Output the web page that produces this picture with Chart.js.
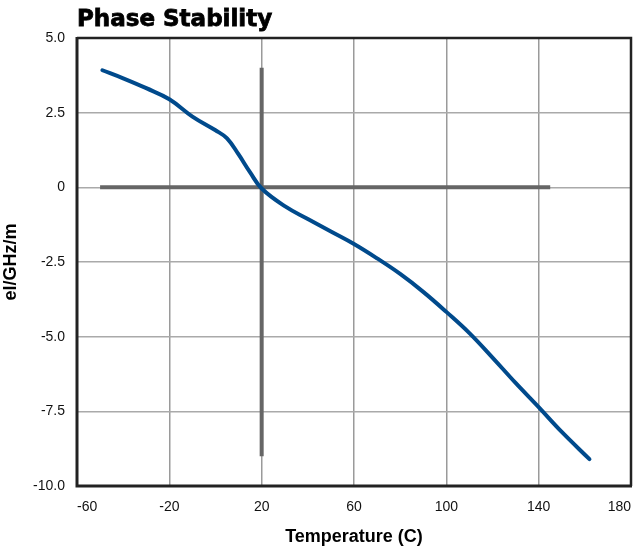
<!DOCTYPE html>
<html>
<head>
<meta charset="utf-8">
<script src="https://cdn.jsdelivr.net/npm/chart.js@4"></script>
<style>
  html, body { margin: 0; padding: 0; background: #fff; }
  #wrap { width: 642px; height: 548px; }
</style>
</head>
<body>
<div id="wrap"><canvas id="phaseChart"></canvas></div>
<script>
// curve
var temps = [-49, -40, -30, -20, -10, 0, 5, 10, 15, 20, 30, 40, 50, 60, 70, 80, 90, 100, 110, 120, 130, 140, 150, 162];
var phase = [3.92, 3.65, 3.32, 2.95, 2.37, 1.91, 1.64, 1.1, 0.5, -0.04, -0.63, -1.06, -1.48, -1.9, -2.38, -2.9, -3.5, -4.17, -4.88, -5.7, -6.55, -7.36, -8.19, -9.1];

// reference cross lines
var hLineX = [-50, 145];
var hLineY = [0, 0];
var vLineX = [20, 20];
var vLineY = [4, -9];

var xTicks = [-60, -20, 20, 60, 100, 140, 180];
var yTicks = [5, 2.5, 0, -2.5, -5, -7.5, -10];

function toPoints(xs, ys) {
    return xs.map((x, i) => ({ x: x, y: ys[i] }));
}

// plot frame + title
var frame = {
    id: 'frame',
    afterDraw: function (chart) {
        var a = chart.chartArea;
        var c = chart.ctx;
        c.save();
        c.strokeStyle = '#222';
        c.lineWidth = 2.5;
        c.beginPath();
        c.moveTo(a.left, a.top);
        c.lineTo(a.right, a.top);
        c.lineTo(a.right, a.bottom);
        c.stroke();
        c.lineWidth = 3;
        c.beginPath();
        c.moveTo(a.left, a.top - 1);
        c.lineTo(a.left, a.bottom);
        c.lineTo(a.right + 1, a.bottom);
        c.stroke();
        c.fillStyle = '#000';
        c.strokeStyle = '#000';
        c.lineWidth = 0.8;
        c.font = 'bold 23px "DejaVu Sans"';
        c.textBaseline = 'alphabetic';
        c.textAlign = 'left';
        c.fillText('Phase Stability', a.left, 26);
        c.strokeText('Phase Stability', a.left, 26);
        c.restore();
    }
};

var ctx = document.getElementById('phaseChart').getContext('2d');

var phaseChart = new Chart(ctx, {
    type: 'line',
    data: {
        datasets: [{
            data: toPoints(temps, phase),
            borderColor: '#004a8c',
            borderWidth: 4,
            pointRadius: 0,
            tension: 0.4,
            borderCapStyle: 'round',
            order: 0
        }, {
            data: toPoints(hLineX, hLineY),
            borderColor: '#666',
            borderWidth: 4,
            pointRadius: 0,
            order: 1
        }, {
            data: toPoints(vLineX, vLineY),
            borderColor: '#666',
            borderWidth: 4,
            pointRadius: 0,
            order: 1
        }]
    },
    options: {
        responsive: true,
        maintainAspectRatio: false,
        animation: false,
        layout: { padding: { top: 38, right: 11, left: 0, bottom: 0 } },
        plugins: {
            legend: { display: false },
            tooltip: { enabled: false }
        },
        scales: {
            x: {
                type: 'linear',
                min: -60,
                max: 180,
                afterBuildTicks: function (scale) {
                    scale.ticks = xTicks.map(v => ({ value: v }));
                },
                afterFit: function (scale) {
                    scale.height = 62;
                    scale.paddingLeft = 0;
                    scale.paddingRight = 0;
                },
                grid: { color: '#9a9a9a', lineWidth: 1.5, drawTicks: false },
                border: { display: false },
                ticks: {
                    padding: 13,
                    align: 'inner',
                    color: '#111',
                    font: { family: '"Liberation Sans"', size: 14 }
                },
                title: {
                    display: true,
                    text: 'Temperature (C)',
                    color: '#000',
                    font: { family: '"Liberation Sans"', size: 18, weight: 'bold' },
                    padding: { top: 5, bottom: 0 }
                }
            },
            y: {
                min: -10,
                max: 5,
                afterBuildTicks: function (scale) {
                    scale.ticks = yTicks.map(v => ({ value: v }));
                },
                afterFit: function (scale) { scale.width = 77; },
                grid: { color: '#aaa', lineWidth: 1.5, drawTicks: false },
                border: { display: false },
                ticks: {
                    padding: 12,
                    color: '#111',
                    font: { family: '"Liberation Sans"', size: 14 },
                    callback: function (v) { return v === 0 ? '0' : v.toFixed(1); }
                },
                title: {
                    display: true,
                    text: 'el/GHz/m',
                    color: '#000',
                    font: { family: '"Liberation Sans"', size: 18, weight: 'bold' },
                    padding: { top: 0, bottom: 0 }
                }
            }
        }
    },
    plugins: [frame]
});
</script>
</body>
</html>
